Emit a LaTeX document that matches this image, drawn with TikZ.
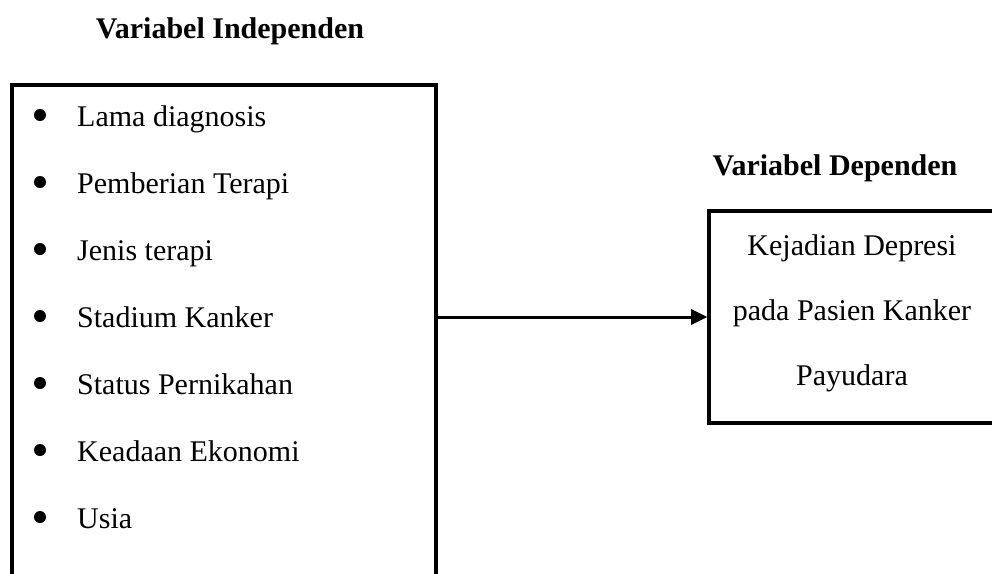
\documentclass[tikz,border=0pt]{standalone}
\usepackage{fontspec}
\setmainfont{Liberation Serif}
\usetikzlibrary{arrows.meta}
\begin{document}
\begin{tikzpicture}[x=1pt,y=-1pt,
  every node/.style={font=\fontsize{30}{36}\selectfont},
  frame/.style={draw, line width=3.6pt, inner sep=0pt},
  item/.style={anchor=base west, inner sep=0pt},
  dot/.style={circle, fill, inner sep=0pt, minimum size=12pt},
  head/.style={anchor=base, inner sep=0pt, font=\fontsize{30}{36}\selectfont\bfseries},
  body/.style={anchor=base, inner sep=0pt}]
\useasboundingbox (0,0) rectangle (992,573);
\clip (0,0) rectangle (992,573);
\node[head] (th1) at (230,38) {Variabel Independen};
\node[head] (th2) at (835,175) {Variabel Dependen};
\node[frame, minimum width=424pt, minimum height=510pt] (indep) at (224,340) {};
\node[frame, minimum width=287pt, minimum height=212pt] (dep) at (852.5,317) {};
\foreach \t [count=\i] in {Lama diagnosis,Pemberian Terapi,Jenis terapi,Stadium Kanker,Status Pernikahan,Keadaan Ekonomi,Usia}{
  \pgfmathsetmacro{\yy}{126+67*(\i-1)}
  \node[dot] (b\i) at (40,\yy-11) {};
  \node[item] (t\i) at (77,\yy) {\t};
}
\node[body] (d1) at (852,255) {Kejadian Depresi};
\node[body] (d2) at (852,320) {pada Pasien Kanker};
\node[body] (d3) at (852,385) {Payudara};
\draw[line width=3pt, -{Triangle[length=16pt,width=15pt]}] (indep.east |- dep.west) -- (dep.west);
\end{tikzpicture}
\end{document}
